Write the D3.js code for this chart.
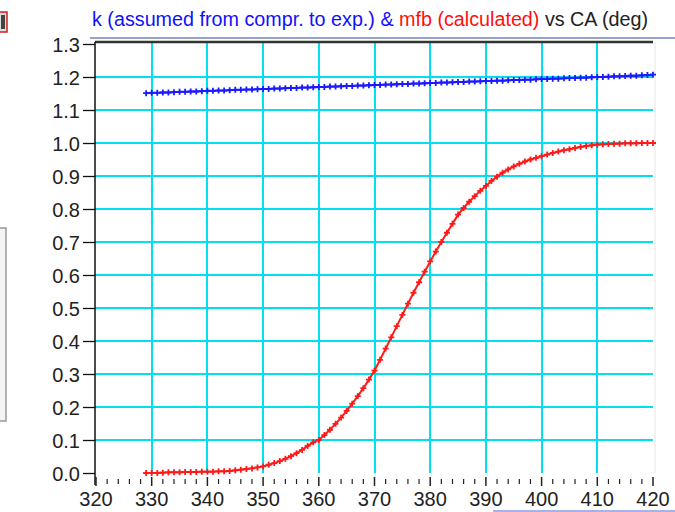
<!DOCTYPE html>
<html><head><meta charset="utf-8">
<script src="https://cdn.jsdelivr.net/npm/d3@7"></script>
<style>
html,body{margin:0;padding:0;background:#fff;}
svg{display:block;}
text{font-family:"Liberation Sans",Arial,sans-serif;}
</style></head>
<body>
<svg id="c" width="675" height="512"></svg>
<script>
// ---- data ----
const caStart = 329, caEnd = 420;
const angles = d3.range(caStart, caEnd + 1);
const kValues = [1.151,1.152,1.152,1.153,1.153,1.154,1.155,1.155,1.156,1.156,1.157,
1.158,1.158,1.159,1.159,1.160,1.161,1.161,1.162,1.162,1.163,
1.164,1.164,1.165,1.165,1.166,1.167,1.167,1.168,1.168,1.169,
1.170,1.170,1.171,1.171,1.172,1.173,1.173,1.174,1.174,1.175,
1.176,1.176,1.177,1.177,1.178,1.179,1.179,1.180,1.180,1.181,
1.182,1.182,1.183,1.183,1.184,1.185,1.185,1.186,1.186,1.187,
1.188,1.188,1.189,1.189,1.190,1.191,1.191,1.192,1.192,1.193,
1.194,1.194,1.195,1.195,1.196,1.197,1.197,1.198,1.198,1.199,
1.200,1.200,1.201,1.202,1.202,1.203,1.204,1.204,1.205,1.206,1.207];
const mfbValues = [0.000,0.000,0.000,0.001,0.002,0.002,0.002,0.003,0.003,0.003,0.004,
0.004,0.004,0.005,0.005,0.006,0.008,0.010,0.012,0.014,0.017,
0.020,0.025,0.030,0.036,0.043,0.051,0.060,0.070,0.082,0.093,
0.100,0.115,0.131,0.149,0.168,0.188,0.210,0.233,0.257,0.283,
0.310,0.343,0.377,0.411,0.445,0.479,0.513,0.546,0.578,0.610,
0.641,0.671,0.700,0.728,0.755,0.783,0.803,0.822,0.839,0.855,
0.870,0.885,0.898,0.910,0.920,0.929,0.937,0.944,0.950,0.955,
0.960,0.965,0.970,0.974,0.978,0.981,0.985,0.988,0.991,0.993,
0.995,0.996,0.997,0.998,0.998,0.999,0.999,0.999,1.000,1.000,1.000];
const xTicks = [320,330,340,350,360,370,380,390,400,410,420];
const yTicks = [0.0,0.1,0.2,0.3,0.4,0.5,0.6,0.7,0.8,0.9,1.0,1.1,1.2,1.3];
const titleParts = [
  {t:"k (assumed from compr. to exp.) & ", c:"#1010ff"},
  {t:"mfb (calculated) ", c:"#ff1010"},
  {t:"vs CA (deg)", c:"#222"}
];

// ---- layout ----
const svg = d3.select("#c");
const x = d3.scaleLinear().domain([320,420]).range([96,653]);
const y = d3.scaleLinear().domain([0,1.3]).range([473,44]);
const gridCol = "#00e0f0";

// side decorations (cut-off widgets)
svg.append("rect").attr("x",-2).attr("y",12).attr("width",9).attr("height",20)
  .attr("fill","#ddd").attr("stroke","#d02020").attr("stroke-width",1.5);
svg.append("rect").attr("x",1).attr("y",15).attr("width",4).attr("height",14).attr("fill","#444");
svg.append("rect").attr("x",-3).attr("y",228).attr("width",9).attr("height",193)
  .attr("fill","#f4f4f4").attr("stroke","#999").attr("stroke-width",1.5);
svg.append("line").attr("x1",493).attr("x2",675).attr("y1",511).attr("y2",511)
  .attr("stroke","#8a9ae0").attr("stroke-width",1.5);

// plot area
svg.append("line").attr("x1",655).attr("x2",655).attr("y1",42).attr("y2",473)
  .attr("stroke","#e6e6e6").attr("stroke-width",1);

// grid
svg.append("g").selectAll("line").data(yTicks.filter(v=>v>0.05 && v<1.25)).join("line")
  .attr("x1",95).attr("x2",653).attr("y1",d=>Math.round(y(d))).attr("y2",d=>Math.round(y(d)))
  .attr("stroke",gridCol).attr("stroke-width",2);
svg.append("g").selectAll("line").data(xTicks.filter(v=>v>320 && v<420)).join("line")
  .attr("x1",d=>Math.round(x(d))).attr("x2",d=>Math.round(x(d))).attr("y1",42).attr("y2",473)
  .attr("stroke",gridCol).attr("stroke-width",2);

// top border lines
svg.append("line").attr("x1",90).attr("x2",675).attr("y1",38).attr("y2",38)
  .attr("stroke","#2c4a90").attr("stroke-width",1.2);
svg.append("line").attr("x1",95).attr("x2",653).attr("y1",42).attr("y2",42)
  .attr("stroke","#333").attr("stroke-width",2.5);

// y axis
const yAxis = d3.axisLeft(y).tickValues(yTicks).tickFormat(d3.format(".1f")).tickSize(12).tickPadding(3);
const gy = svg.append("g").attr("transform","translate(95,0)").call(yAxis);
gy.select(".domain").remove();
gy.selectAll(".tick line").attr("stroke","#111").attr("stroke-width",1.3);
gy.selectAll(".tick text").attr("font-size",20).attr("fill","#222")
  .attr("font-family","'Liberation Sans',Arial,sans-serif").attr("dy","0.36em");
svg.append("line").attr("x1",95).attr("x2",95).attr("y1",42).attr("y2",485)
  .attr("stroke","#111").attr("stroke-width",1.5);

// x axis: minor ticks every 2, major every 10
const minor = d3.range(320, 421, 2);
svg.append("g").selectAll("line").data(minor).join("line")
  .attr("x1",d=>x(d)).attr("x2",d=>x(d))
  .attr("y1",d=>d%10===0?477:479).attr("y2",d=>d%10===0?486:484)
  .attr("stroke","#222").attr("stroke-width",d=>d%10===0?1.5:1.2);
svg.append("g").selectAll("text").data(xTicks).join("text")
  .attr("x",d=>x(d)).attr("y",506).attr("text-anchor","middle")
  .attr("font-size",20).attr("fill","#222").text(d=>d);

// series
const line = d3.line().x((d,i)=>x(angles[i])).y(d=>y(d));
function series(vals, col){
  svg.append("path").datum(vals).attr("d",line).attr("fill","none")
    .attr("stroke",col).attr("stroke-width",2);
  const g = svg.append("g");
  g.selectAll("path").data(vals).join("path")
    .attr("d",(d,i)=>{const cx=x(angles[i]), cy=y(d);
      return `M${cx-3},${cy}H${cx+3}M${cx},${cy-3}V${cy+3}`;})
    .attr("stroke",col).attr("stroke-width",1.8).attr("fill","none");
}
series(kValues, "#1a1aff");
series(mfbValues, "#ff1a1a");

// title
const tt = svg.append("text").attr("x",92).attr("y",26).attr("font-size",19.5)
  .attr("textLength",556).attr("lengthAdjust","spacingAndGlyphs");
tt.selectAll("tspan").data(titleParts).join("tspan").attr("fill",d=>d.c)
  .attr("xml:space","preserve").style("white-space","pre").text(d=>d.t);
</script>
</body></html>
